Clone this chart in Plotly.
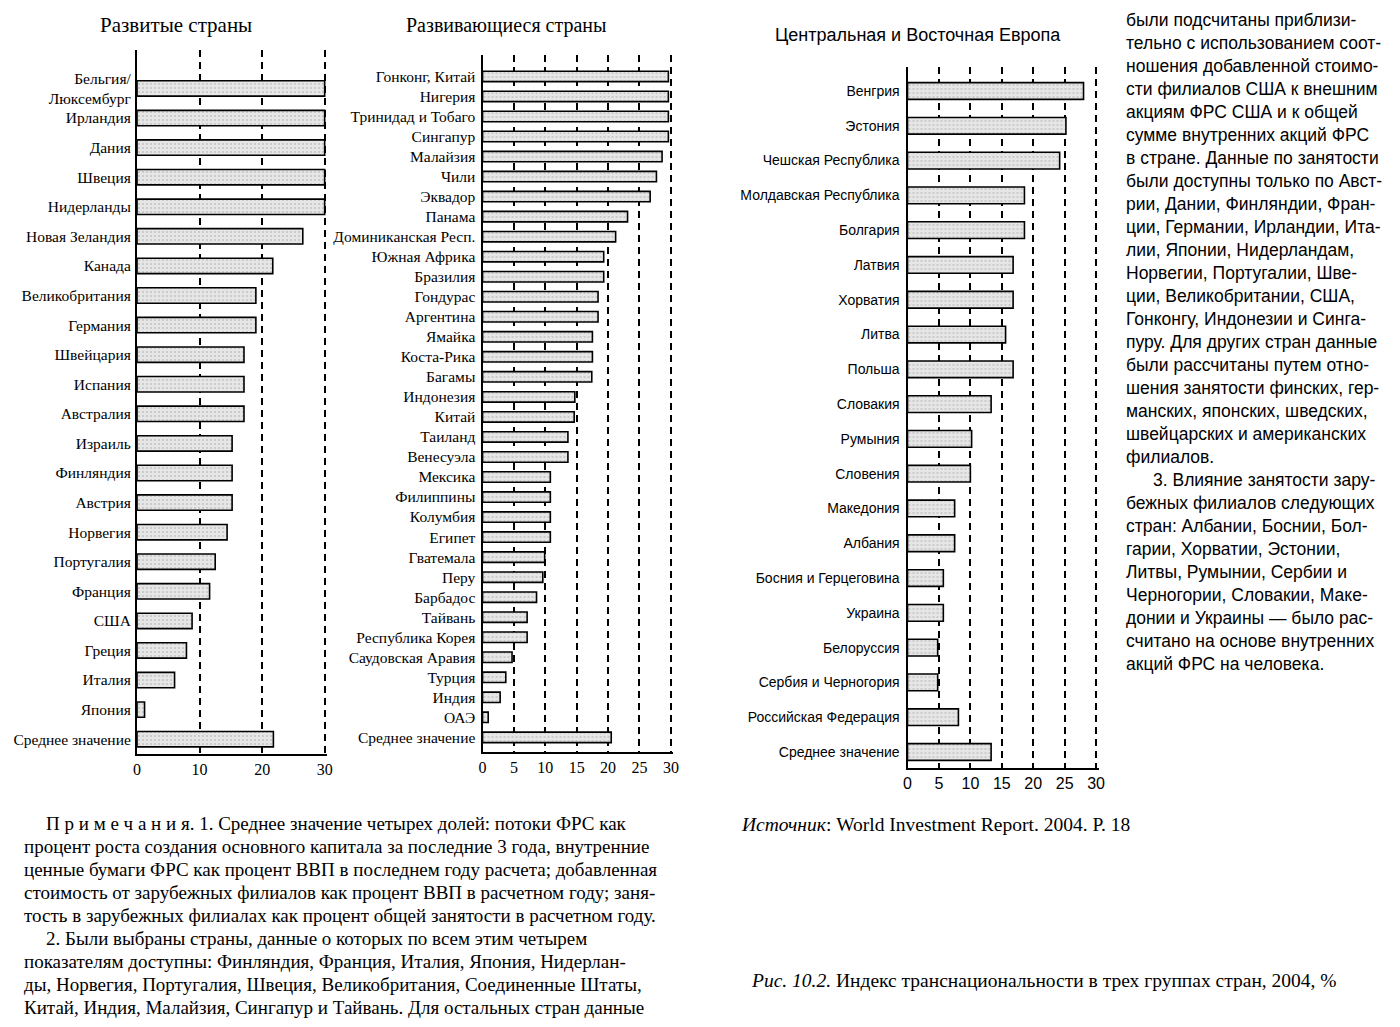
import plotly.graph_objects as go

# ---------------- DATA ----------------
dev_countries = ["Бельгия/<br>Люксембург", "Ирландия", "Дания", "Швеция", "Нидерланды",
                 "Новая Зеландия", "Канада", "Великобритания", "Германия", "Швейцария",
                 "Испания", "Австралия", "Израиль", "Финляндия", "Австрия", "Норвегия",
                 "Португалия", "Франция", "США", "Греция", "Италия", "Япония",
                 "Среднее значение"]
dev_values = [30, 30, 30, 30, 30, 26.5, 21.7, 19.0, 19.0, 17.1, 17.1, 17.1, 15.2, 15.2,
              15.2, 14.4, 12.5, 11.6, 8.8, 7.9, 6.0, 1.2, 21.8]

dvg_countries = ["Гонконг, Китай", "Нигерия", "Тринидад и Тобаго", "Сингапур", "Малайзия",
                 "Чили", "Эквадор", "Панама", "Доминиканская Респ.", "Южная Африка",
                 "Бразилия", "Гондурас", "Аргентина", "Ямайка", "Коста-Рика", "Багамы",
                 "Индонезия", "Китай", "Таиланд", "Венесуэла", "Мексика", "Филиппины",
                 "Колумбия", "Египет", "Гватемала", "Перу", "Барбадос", "Тайвань",
                 "Республика Корея", "Саудовская Аравия", "Турция", "Индия", "ОАЭ",
                 "Среднее значение"]
dvg_values = [29.6, 29.6, 29.6, 29.6, 28.6, 27.7, 26.7, 23.1, 21.2, 19.3, 19.3, 18.4, 18.4,
              17.5, 17.5, 17.4, 14.7, 14.6, 13.6, 13.6, 10.8, 10.8, 10.8, 10.8, 9.9, 9.6,
              8.6, 7.1, 7.1, 4.7, 3.7, 2.8, 0.9, 20.5]

cee_countries = ["Венгрия", "Эстония", "Чешская Республика", "Молдавская Республика",
                 "Болгария", "Латвия", "Хорватия", "Литва", "Польша", "Словакия", "Румыния",
                 "Словения", "Македония", "Албания", "Босния и Герцеговина", "Украина",
                 "Белоруссия", "Сербия и Черногория", "Российская Федерация",
                 "Среднее значение"]
cee_values = [28.0, 25.2, 24.2, 18.6, 18.6, 16.8, 16.8, 15.6, 16.8, 13.3, 10.2, 10.0, 7.5,
              7.5, 5.7, 5.7, 4.8, 4.8, 8.1, 13.3]

dev_ticks = [0, 10, 20, 30]
five_ticks = [0, 5, 10, 15, 20, 25, 30]

titles = ["Развитые страны", "Развивающиеся страны", "Центральная и Восточная Европа"]

notes_lines = [
    "П р и м е ч а н и я. 1. Среднее значение четырех долей: потоки ФРС как",
    "процент роста создания основного капитала за последние 3 года, внутренние",
    "ценные бумаги ФРС как процент ВВП в последнем году расчета; добавленная",
    "стоимость от зарубежных филиалов как процент ВВП в расчетном году; заня-",
    "тость в зарубежных филиалах как процент общей занятости в расчетном году.",
    "2. Были выбраны страны, данные о которых по всем этим четырем",
    "показателям доступны: Финляндия, Франция, Италия, Япония, Нидерлан-",
    "ды, Норвегия, Португалия, Швеция, Великобритания, Соединенные Штаты,",
    "Китай, Индия, Малайзия, Сингапур и Тайвань. Для остальных стран данные",
]
notes_indent = [1, 0, 0, 0, 0, 1, 0, 0, 0]

side_lines = [
    "были подсчитаны приблизи-",
    "тельно с использованием соот-",
    "ношения добавленной стоимо-",
    "сти филиалов США к внешним",
    "акциям ФРС США и к общей",
    "сумме внутренних акций ФРС",
    "в стране. Данные по занятости",
    "были доступны только по Авст-",
    "рии, Дании, Финляндии, Фран-",
    "ции, Германии, Ирландии, Ита-",
    "лии, Японии, Нидерландам,",
    "Норвегии, Португалии, Шве-",
    "ции, Великобритании, США,",
    "Гонконгу, Индонезии и Синга-",
    "пуру. Для других стран данные",
    "были рассчитаны путем отно-",
    "шения занятости финских, гер-",
    "манских, японских, шведских,",
    "швейцарских и американских",
    "филиалов.",
    "3. Влияние занятости зару-",
    "бежных филиалов следующих",
    "стран: Албании, Боснии, Бол-",
    "гарии, Хорватии, Эстонии,",
    "Литвы, Румынии, Сербии и",
    "Черногории, Словакии, Маке-",
    "донии и Украины — было рас-",
    "считано на основе внутренних",
    "акций ФРС на человека.",
]
side_indent = [0] * 20 + [1] + [0] * 8

source_text = "<i>Источник</i>: World Investment Report. 2004. P. 18"
caption_text = "<i>Рис. 10.2.</i> Индекс транснациональности в трех группах стран, 2004, %"

# ---------------- LAYOUT HELPERS ----------------
W, H = 1400, 1027
SERIF = "Liberation Serif, Times New Roman, serif"
SANS = "Liberation Sans, Arial, sans-serif"


def fx(p):
    return p / W


def fy(p):
    return 1 - p / H


fig = go.Figure()

bar_marker = dict(
    color="#dedede",
    line=dict(color="black", width=1.6),
    pattern=dict(shape=".", fgcolor="#a0a0a0", bgcolor="#e6e6e6", size=4, solidity=0.2),
)

fig.add_trace(go.Bar(x=dev_values, y=dev_countries, orientation="h", width=0.52,
                     marker=bar_marker, xaxis="x", yaxis="y", showlegend=False,
                     hoverinfo="x+y"))
fig.add_trace(go.Bar(x=dvg_values, y=dvg_countries, orientation="h", width=0.52,
                     marker=bar_marker, xaxis="x2", yaxis="y2", showlegend=False,
                     hoverinfo="x+y"))
fig.add_trace(go.Bar(x=cee_values, y=cee_countries, orientation="h", width=0.48,
                     marker=bar_marker, xaxis="x3", yaxis="y3", showlegend=False,
                     hoverinfo="x+y"))


def xaxis_cfg(domain_px, ticks, font, standoff):
    return dict(
        domain=[fx(domain_px[0]), fx(domain_px[1])],
        range=[0, 30.4],
        tickvals=ticks,
        ticktext=[str(t) for t in ticks],
        showgrid=True, gridcolor="black", gridwidth=2.2, griddash="7px,5px",
        zeroline=False, showline=True, linecolor="black", linewidth=2,
        ticks="", tickfont=dict(family=font, size=16, color="black"),
        ticklabelstandoff=standoff, fixedrange=True,
    )


def yaxis_cfg(domain_px, cats, rng, anchor, font, size, standoff):
    return dict(
        domain=[fy(domain_px[1]), fy(domain_px[0])],
        type="category", categoryorder="array", categoryarray=cats,
        range=rng, anchor=anchor,
        showgrid=False, zeroline=False, showline=True, linecolor="black", linewidth=2.2,
        ticks="", tickfont=dict(family=font, size=size, color="black"),
        ticklabelstandoff=standoff, fixedrange=True,
    )


n1, n2, n3 = len(dev_countries), len(dvg_countries), len(cee_countries)

fig.update_layout(
    width=W, height=H,
    margin=dict(l=0, r=0, t=0, b=0),
    paper_bgcolor="white", plot_bgcolor="white",
    bargap=0.4,
    xaxis=dict(**xaxis_cfg((134, 325.5), dev_ticks, SERIF, 0), anchor="y"),
    yaxis=yaxis_cfg((50, 754), dev_countries, [n1 - 0.5, -1.3], "x", SERIF, 15.5, 1),
    xaxis2=dict(**xaxis_cfg((482, 674.2), five_ticks, SERIF, 0), anchor="y2"),
    yaxis2=yaxis_cfg((55, 752), dvg_countries, [n2 - 1 + 0.73, -1.07], "x2", SERIF, 15.5, 2),
    xaxis3=dict(**xaxis_cfg((910, 1102.5), five_ticks, SANS, 0), anchor="y3"),
    yaxis3=yaxis_cfg((67, 768), cee_countries, [n3 - 1 + 0.46, -0.69], "x3", SANS, 14, 3),
)

annotations = []
# chart titles
for t, cx, cy, fam, sz in zip(titles, [173, 506, 921], [25, 25, 35],
                              [SERIF, SERIF, SANS], [21, 20, 18]):
    annotations.append(dict(text=t, x=fx(cx), y=fy(cy), xref="paper", yref="paper",
                            xanchor="center", yanchor="middle", showarrow=False,
                            font=dict(family=fam, size=sz, color="black")))

# notes at the bottom-left
for i, (line, ind) in enumerate(zip(notes_lines, notes_indent)):
    annotations.append(dict(text=line, x=fx(40 if ind else 18), y=fy(823 + 23 * i),
                            xref="paper", yref="paper", xanchor="left", yanchor="middle",
                            showarrow=False,
                            font=dict(family=SERIF, size=19, color="black")))

# side column text
for i, (line, ind) in enumerate(zip(side_lines, side_indent)):
    annotations.append(dict(text=line, x=fx(1155 if ind else 1128), y=fy(20 + 23 * i),
                            xref="paper", yref="paper", xanchor="left", yanchor="middle",
                            showarrow=False,
                            font=dict(family=SANS, size=17.5, color="black")))

annotations.append(dict(text=source_text, x=fx(740), y=fy(824), xref="paper", yref="paper",
                        xanchor="left", yanchor="middle", showarrow=False,
                        font=dict(family=SERIF, size=19.5, color="black")))
annotations.append(dict(text=caption_text, x=fx(750), y=fy(980), xref="paper", yref="paper",
                        xanchor="left", yanchor="middle", showarrow=False,
                        font=dict(family=SERIF, size=19.5, color="black")))

fig.update_layout(annotations=annotations)

fig.write_html(
    "out.html",
    config={"responsive": False, "displayModeBar": False},
    post_script="document.body.style.margin='0';document.body.style.padding='0';"
                "document.documentElement.style.overflow='hidden';",
)
